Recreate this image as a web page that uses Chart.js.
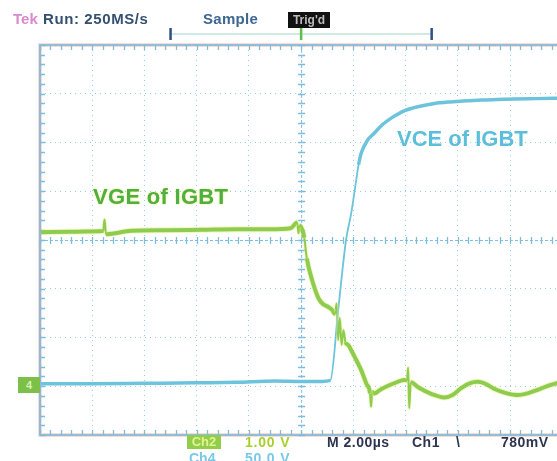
<!DOCTYPE html>
<html><head><meta charset="utf-8">
<script src="https://cdn.jsdelivr.net/npm/chart.js@4"></script>
<style>
html,body{margin:0;padding:0;background:#fff;overflow:hidden;}
#wrap{position:relative;width:557px;height:461px;overflow:hidden;}
canvas{position:absolute;left:0;top:0;}
.t{position:absolute;white-space:nowrap;font-family:"Liberation Sans",Arial,sans-serif;font-weight:bold;line-height:1;}
</style></head><body>
<div id="wrap">
<canvas id="c" width="557" height="461"></canvas>
<div class="t" style="left:13px;top:11px;font-size:15px;color:#d98ad0;">Tek</div>
<div class="t" style="left:43px;top:11px;font-size:15px;color:#34506e;letter-spacing:0.6px;">Run: 250MS/s</div>
<div class="t" style="left:203px;top:11px;font-size:15px;color:#3d6690;letter-spacing:0.3px;">Sample</div>
<div class="t" style="left:288px;top:12px;width:42px;height:16px;background:#111;color:#bbb;font-size:12px;text-align:center;line-height:16px;">Trig'd</div>
<div class="t" style="left:93px;top:186px;font-size:22px;color:#4daf48;text-shadow:0 0 2px #eef070,0 0 1px #eef070;letter-spacing:0.3px;">VGE of IGBT</div>
<div class="t" style="left:397px;top:128px;font-size:22px;color:#5cbfda;">VCE of IGBT</div>
<div class="t" style="left:18px;top:377px;width:22px;height:16px;background:#7cc04a;color:#d8f0b0;font-size:11px;text-align:center;line-height:16px;">4</div>
<div class="t" style="left:187px;top:435px;width:34px;height:14px;background:#94cc4c;color:#e0f590;font-size:13px;text-align:center;line-height:14px;">Ch2</div>
<div class="t" style="left:245px;top:435px;font-size:14px;color:#a8d030;letter-spacing:0.8px;">1.00 V</div>
<div class="t" style="left:189px;top:451px;font-size:14px;color:#78c8e6;">Ch4</div>
<div class="t" style="left:245px;top:451px;font-size:14px;color:#78c8e6;letter-spacing:0.8px;">50.0 V</div>
<div class="t" style="left:327px;top:435px;font-size:14px;color:#2c3550;letter-spacing:0.5px;">M 2.00µs</div>
<div class="t" style="left:412px;top:435px;font-size:14px;color:#2c3550;letter-spacing:0.5px;">Ch1</div>
<div class="t" style="left:456px;top:435px;font-size:14px;color:#2c3550;">\</div>
<div class="t" style="left:501px;top:435px;font-size:14px;color:#2c3550;letter-spacing:0.5px;">780mV</div>
</div>
<script>
// Time axis in microseconds (2.00 µs/div, trigger at 0), vertical axis in screen divisions
const vgeTime = [-9.96,-8.8,-7.7,-7.58,-7.53,-7.47,-6.5,-5.2,-3.8,-2.5,-1.2,-0.4,-0.15,-0.1,-0.05,0.05,0.12,0.22,0.42,0.67,0.85,1.03,1.2,1.3,1.36,1.42,1.48,1.55,1.62,1.7,1.8,1.92,2.1,2.3,2.5,2.64,2.68,2.72,2.8,3.0,3.33,3.65,3.95,4.05,4.1,4.14,4.2,4.48,5.0,5.48,5.8,6.13,6.45,6.78,7.1,7.39,7.85,8.31,8.7,9.08,9.5,9.85];
const vgeDiv  = [0.16,0.17,0.18,0.19,0.42,0.12,0.19,0.2,0.21,0.22,0.22,0.24,0.36,0.14,0.3,0.2,0.05,-0.38,-0.82,-1.2,-1.32,-1.37,-1.44,-1.52,-1.30,-2.05,-1.6,-2.15,-1.85,-2.1,-2.15,-2.26,-2.45,-2.67,-2.95,-3.15,-3.42,-3.12,-3.15,-3.08,-2.99,-2.92,-2.87,-2.88,-2.62,-3.45,-2.92,-3.02,-3.16,-3.23,-3.18,-3.04,-2.94,-2.91,-2.96,-3.05,-3.14,-3.18,-3.14,-3.07,-2.98,-2.93];
const vceTime = [-9.96,-8.0,-6.0,-4.0,-2.5,-1.0,0.0,0.8,1.12,1.42,1.72,1.92,2.11,2.20,2.30,2.55,2.80,3.10,3.45,3.95,4.60,5.10,5.63,6.20,6.90,7.50,8.16,9.0,9.85];
const vceDiv  = [-2.95,-2.95,-2.94,-2.93,-2.92,-2.89,-2.9,-2.9,-2.88,-1.44,0.0,0.55,1.23,1.54,1.78,2.05,2.19,2.36,2.50,2.65,2.75,2.80,2.83,2.85,2.87,2.88,2.89,2.90,2.91];
const xGridTicks = [-10,-8,-6,-4,-2,0,2,4,6,8];
const yGridTicks = [-4,-3,-2,-1,0,1,2,3,4];
const xMinorStep = 0.4, yMinorStep = 0.2;
const triggerWindow = [-5, 5];

const toPts = (xs, ys) => xs.map((x, i) => ({x: x, y: ys[i]}));
const steepWidth = (thin, thick) => ctx => {
  const dx = Math.abs(ctx.p1.x - ctx.p0.x) || 0.001;
  return Math.abs(ctx.p1.y - ctx.p0.y) / dx > 5 ? thin : thick;
};

const GRID = 'rgba(110,185,220,0.7)';
const graticule = {
  id: 'graticule',
  beforeDatasetsDraw(chart) {
    const {ctx, chartArea: a, scales: {x, y}} = chart;
    ctx.save();
    const frame = (w, col) => {
      ctx.strokeStyle = col; ctx.lineWidth = w;
      ctx.beginPath();
      ctx.moveTo(a.right + 2, a.top); ctx.lineTo(a.left, a.top); ctx.lineTo(a.left, a.bottom); ctx.lineTo(a.right + 2, a.bottom);
      ctx.stroke();
    };
    frame(4, 'rgba(245,190,180,0.55)');
    frame(1.6, '#6fb6d8');
    const cx = x.getPixelForValue(0), cy = y.getPixelForValue(0);
    ctx.strokeStyle = 'rgba(120,185,220,0.9)'; ctx.lineWidth = 1;
    ctx.setLineDash([3, 2]);
    ctx.beginPath(); ctx.moveTo(cx + 0.5, a.top); ctx.lineTo(cx + 0.5, a.bottom);
    ctx.moveTo(a.left, cy + 0.5); ctx.lineTo(a.right, cy + 0.5); ctx.stroke();
    ctx.setLineDash([]);
    ctx.strokeStyle = '#7cbde0'; ctx.lineWidth = 1.3;
    ctx.beginPath();
    for (let t = x.min; t <= x.max + 1e-6; t += xMinorStep) {
      const px = Math.round(x.getPixelForValue(t)) + 0.5;
      ctx.moveTo(px, cy - 3); ctx.lineTo(px, cy + 4);
      ctx.moveTo(px, a.top); ctx.lineTo(px, a.top + 5);
      ctx.moveTo(px, a.bottom); ctx.lineTo(px, a.bottom - 5);
    }
    for (let v = y.min; v <= y.max + 1e-6; v += yMinorStep) {
      const py = Math.round(y.getPixelForValue(v)) + 0.5;
      ctx.moveTo(cx - 3, py); ctx.lineTo(cx + 4, py);
      ctx.moveTo(a.left, py); ctx.lineTo(a.left + 5, py);
    }
    ctx.stroke();
    const l = x.getPixelForValue(triggerWindow[0]), r = x.getPixelForValue(triggerWindow[1]);
    const by = a.top - 11;
    ctx.strokeStyle = '#bfe3d4'; ctx.lineWidth = 1.5;
    ctx.beginPath(); ctx.moveTo(l, by); ctx.lineTo(r, by); ctx.stroke();
    ctx.strokeStyle = '#2f4f86'; ctx.lineWidth = 2.5;
    ctx.beginPath(); ctx.moveTo(l, by - 6); ctx.lineTo(l, by + 6); ctx.moveTo(r, by - 6); ctx.lineTo(r, by + 6); ctx.stroke();
    ctx.strokeStyle = '#5cbf4a'; ctx.lineWidth = 2.5;
    ctx.beginPath(); ctx.moveTo(cx, by - 6); ctx.lineTo(cx, by + 6); ctx.stroke();
    ctx.restore();
  }
};

new Chart(document.getElementById('c'), {
  type: 'line',
  data: {
    datasets: [
      {label: 'VGE halo', data: toPts(vgeTime, vgeDiv), borderColor: 'rgba(228,238,100,0.4)', borderWidth: 6, pointRadius: 0, cubicInterpolationMode: 'monotone',
       segment: {borderWidth: steepWidth(3.5, 6)}},
      {label: 'VCE of IGBT', data: toPts(vceTime, vceDiv), borderColor: '#6cc4dc', borderWidth: 3.5, pointRadius: 0, cubicInterpolationMode: 'monotone',
       segment: {borderWidth: steepWidth(1.8, 3.5)}},
      {label: 'VGE of IGBT', data: toPts(vgeTime, vgeDiv), borderColor: '#55b545', borderWidth: 4, pointRadius: 0, cubicInterpolationMode: 'monotone',
       segment: {borderWidth: steepWidth(2, 4)}}
    ]
  },
  options: {
    responsive: false, animation: false, devicePixelRatio: 1,
    layout: {padding: {left: 40, top: 45, right: 0, bottom: 26}},
    plugins: {legend: {display: false}, tooltip: {enabled: false}},
    scales: {
      x: {type: 'linear', min: -10, max: 9.8,
          afterBuildTicks: s => { s.ticks = xGridTicks.map(v => ({value: v})); },
          ticks: {display: false}, grid: {color: GRID, lineWidth: 1, drawTicks: false},
          border: {display: false, dash: [1, 4]}},
      y: {type: 'linear', min: -4, max: 4,
          afterBuildTicks: s => { s.ticks = yGridTicks.map(v => ({value: v})); },
          ticks: {display: false}, grid: {color: GRID, lineWidth: 1, drawTicks: false},
          border: {display: false, dash: [1, 4]}}
    }
  },
  plugins: [graticule]
});
</script>
</body></html>
